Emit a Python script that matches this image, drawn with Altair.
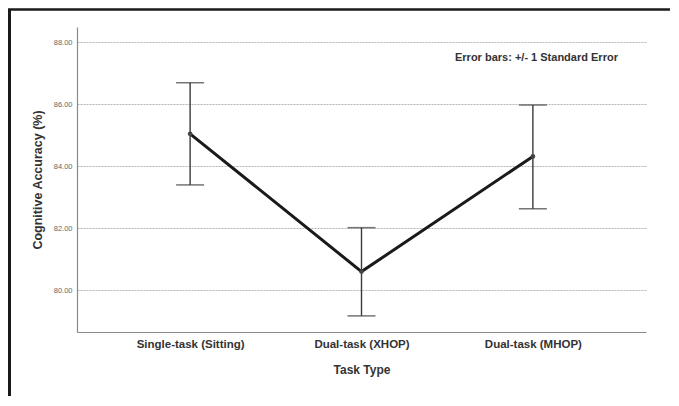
import altair as alt
import pandas as pd

tasks = ["Single-task (Sitting)", "Dual-task (XHOP)", "Dual-task (MHOP)"]
means = [85.05, 80.60, 84.32]
upper = [86.70, 82.02, 85.98]
lower = [83.40, 79.17, 82.63]
y_ticks = [80, 82, 84, 86, 88]
note = "Error bars: +/- 1 Standard Error"

df = pd.DataFrame({"task": tasks, "mean": means, "upper": upper, "lower": lower})

FONT = "Liberation Sans"
W, H = 569, 305

x = alt.X("task:N", sort=tasks, title="Task Type",
          scale=alt.Scale(type="point", padding=0.66),
          axis=alt.Axis(labelAngle=0, ticks=False, labelPadding=6, grid=False,
                        labelFont=FONT, labelFontSize=11.5, labelFontWeight="bold",
                        labelColor="#333333", titleFont=FONT, titleFontSize=12,
                        titleFontWeight="bold", titleColor="#333333",
                        titleBaseline="middle", titleY=37, titleX=W / 2,
                        domainColor="#8a8a8a", domainWidth=1.2))
yscale = alt.Scale(domain=[78.65, 88.5], nice=False, zero=False)

line = alt.Chart(df).mark_line(color="#1a1a1a", strokeWidth=3).encode(
    x=x,
    y=alt.Y("mean:Q", scale=yscale, title="Cognitive Accuracy (%)",
            axis=alt.Axis(values=y_ticks, format=".2f", ticks=False, labelPadding=5,
                          labelFont=FONT, labelFontSize=7.5, labelColor="#666666",
                          grid=True, gridColor="#b5b5b5", gridDash=[2, 1], gridWidth=1,
                          domainColor="#8a8a8a", domainWidth=1.2,
                          titleFont=FONT, titleFontSize=12.5, titleFontWeight="bold",
                          titleColor="#333333", titleX=-40, titleY=H / 2,
                          titleBaseline="middle", titleAlign="center")),
)

pts = alt.Chart(df).mark_point(filled=True, color="#444444", size=22, opacity=1).encode(
    x=x, y=alt.Y("mean:Q", scale=yscale))

err = alt.Chart(df).mark_rule(color="#3a3a3a", strokeWidth=1.4).encode(
    x=x, y=alt.Y("lower:Q", scale=yscale), y2="upper:Q")

cap_hi = alt.Chart(df).mark_tick(color="#3a3a3a", orient="horizontal", size=28,
                                 thickness=1.5).encode(
    x=x, y=alt.Y("upper:Q", scale=yscale))
cap_lo = alt.Chart(df).mark_tick(color="#3a3a3a", orient="horizontal", size=28,
                                 thickness=1.5).encode(
    x=x, y=alt.Y("lower:Q", scale=yscale))

note_df = pd.DataFrame({"t": [note]})
txt = alt.Chart(note_df).mark_text(font=FONT, fontSize=11, fontWeight="bold",
                                   color="#333333", align="left",
                                   baseline="middle").encode(
    text="t:N", x=alt.value(378), y=alt.value(31))

frame_df = pd.DataFrame({"k": [0]})
frame_left = alt.Chart(frame_df).mark_rule(color="#1a1a1a", strokeWidth=3).encode(
    x=alt.value(-67.5), y=alt.value(-18), y2=alt.value(H + 70))
frame_top = alt.Chart(frame_df).mark_rule(color="#1a1a1a", strokeWidth=2.5).encode(
    x=alt.value(-69), x2=alt.value(W + 30), y=alt.value(-17.5))

chart = alt.layer(line, err, cap_hi, cap_lo, pts, txt, frame_left, frame_top).properties(
    width=W, height=H,
    autosize=alt.AutoSizeParams(type="none"),
    padding={"left": 69, "top": 19, "right": 24, "bottom": 64},
    background="white",
).configure_view(stroke=None)

chart.save("out.html", embed_options={"renderer": "svg", "actions": False})
